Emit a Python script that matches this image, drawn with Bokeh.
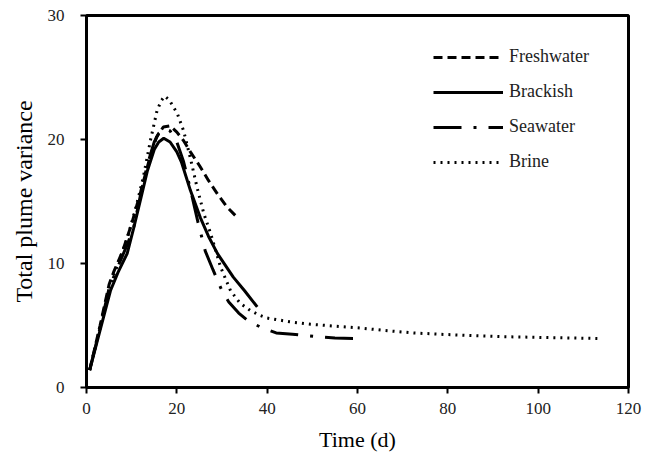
from bokeh.plotting import figure
from bokeh.models import Range1d, FixedTicker, Legend, LegendItem
from bokeh.embed import file_html
from bokeh.resources import INLINE

# Data
fresh_t = [0.7, 3, 5, 6, 8, 10, 12, 14, 15.5, 17, 18.5, 20, 21.5, 23, 25, 27, 29, 31, 33.4]
fresh_v = [1.4, 5, 8.3, 9.3, 11, 13.2, 15.8, 18.5, 20.2, 21, 21.1, 20.6, 19.9, 19, 17.9, 16.7, 15.6, 14.6, 13.7]

brack_t = [0.7, 3, 5.3, 7, 9, 10.4, 12, 13.5, 15, 16, 17.1, 18.5, 20, 21, 23, 25.2, 27, 29, 32.5, 35, 37.8]
brack_v = [1.4, 4.6, 7.8, 9.3, 10.8, 12.8, 15.2, 17.5, 19.2, 19.8, 20.1, 19.8, 19, 18.2, 15.9, 13.7, 12.2, 10.8, 8.9, 7.8, 6.5]

sea_t = [0.7, 3, 5, 7, 9, 10.5, 12, 13.5, 15, 16, 17.3, 18.5, 20, 21.5, 23, 24.7, 26.3, 28, 30, 31.5,
         33.7, 36, 39, 42, 45.6, 51, 55, 60.2]
sea_v = [1.4, 4.8, 8, 9.8, 11.5, 13, 15.6, 18, 19.8, 20.5, 20.9, 20.7, 19.8, 18.2, 16, 13.3, 11, 9.5, 7.8, 6.9,
         6, 5.3, 4.8, 4.4, 4.3, 4.1, 4.0, 3.95]

brine_t = [0.7, 3, 5, 7, 9, 11, 12.6, 14.2, 15.6, 16.5, 17.3, 18.3, 20.1, 21.5, 23, 24.5, 26, 27.5, 29.7, 31.9,
           34, 36.3, 38.5, 40, 45, 49.6, 55, 60.6, 66, 72.4, 78, 84.3, 92, 99, 106, 113.4]
brine_v = [1.4, 4.8, 8, 10, 12, 14.6, 17, 20, 22.3, 23.1, 23.5, 23.2, 22.1, 20.7, 18.5, 16.1, 14, 12.4, 9.7, 7.8,
           6.8, 6.2, 5.8, 5.6, 5.3, 5.1, 4.95, 4.8, 4.6, 4.4, 4.3, 4.2, 4.1, 4.05, 4.0, 3.95]

x_ticks = [0, 20, 40, 60, 80, 100, 120]
y_ticks = [0, 10, 20, 30]

FONT = "Liberation Serif"

p = figure(width=642, height=458, output_backend="svg", toolbar_location=None,
           x_range=Range1d(0, 120), y_range=Range1d(0, 30),
           min_border_left=86, min_border_right=14, min_border_top=15, min_border_bottom=71)

p.xgrid.visible = False
p.ygrid.visible = False
p.outline_line_color = "black"
p.outline_line_width = 3
p.outline_line_alpha = 1.0

for ax in (p.xaxis, p.yaxis):
    ax.axis_line_width = 3
    ax.major_tick_line_width = 2
    ax.major_tick_out = 6
    ax.major_tick_in = 0
    ax.minor_tick_line_color = None
    ax.major_label_text_font = FONT
    ax.major_label_text_font_size = "17px"
    ax.major_label_text_font_style = "normal"
    ax.major_label_text_color = "#222222"
    ax.axis_label_text_font = FONT
    ax.axis_label_text_font_style = "normal"
    ax.axis_label_text_color = "black"

p.xaxis.ticker = FixedTicker(ticks=x_ticks)
p.yaxis.ticker = FixedTicker(ticks=y_ticks)
p.xaxis.axis_label = "Time (d)"
p.yaxis.axis_label = "Total plume variance"
p.xaxis.axis_label_text_font_size = "22px"
p.yaxis.axis_label_text_font_size = "24px"
p.xaxis.major_label_standoff = 9
p.yaxis.major_label_standoff = 16
p.xaxis.axis_label_standoff = 10
p.yaxis.axis_label_standoff = 8

r_fresh = p.line(fresh_t, fresh_v, line_color="black", line_width=3, line_dash="9 5")
r_brack = p.line(brack_t, brack_v, line_color="black", line_width=3)
r_sea = p.line(sea_t, sea_v, line_color="black", line_width=3, line_dash="28 12 3 12")
r_brine = p.line(brine_t, brine_v, line_color="black", line_width=3, line_dash="2 5")

legend = Legend(items=[
    LegendItem(label="Freshwater", renderers=[r_fresh]),
    LegendItem(label="Brackish", renderers=[r_brack]),
    LegendItem(label="Seawater", renderers=[r_sea]),
    LegendItem(label="Brine", renderers=[r_brine]),
], location=(347, 215))
legend.border_line_color = None
legend.background_fill_alpha = 0
legend.padding = 0
legend.spacing = 14
legend.glyph_width = 70
legend.glyph_height = 20
legend.label_height = 20
legend.label_standoff = 6
legend.label_text_font = FONT
legend.label_text_font_size = "18px"
legend.label_text_font_style = "normal"
legend.label_text_color = "#222222"
p.add_layout(legend)

open("out.html", "w").write(file_html(p, INLINE))
